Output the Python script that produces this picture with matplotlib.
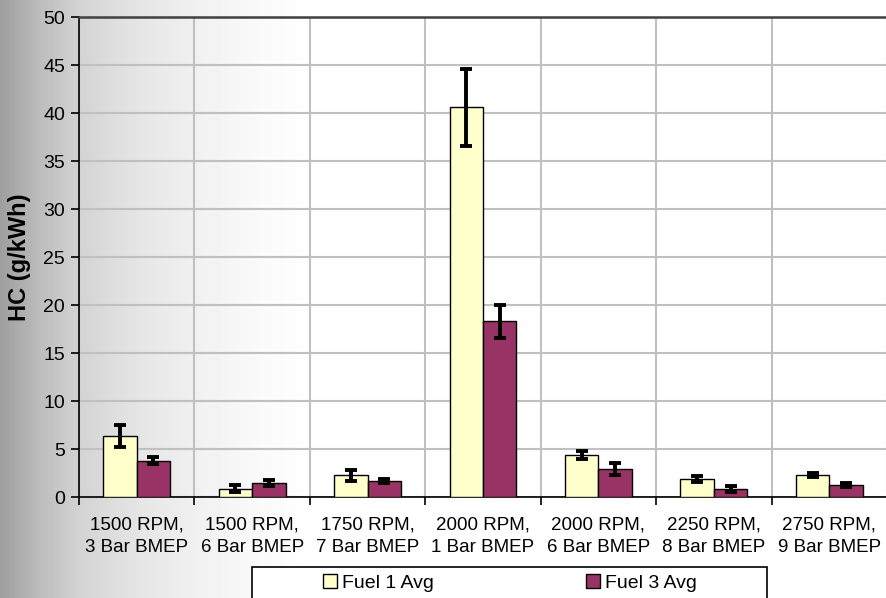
import numpy as np
import matplotlib
matplotlib.use("Agg")
import matplotlib.pyplot as plt
from matplotlib.patches import Rectangle

plt.rcParams['font.family'] = ['Liberation Sans', 'DejaVu Sans']

# data
categories = ["1500 RPM,\n3 Bar BMEP", "1500 RPM,\n6 Bar BMEP", "1750 RPM,\n7 Bar BMEP",
              "2000 RPM,\n1 Bar BMEP", "2000 RPM,\n6 Bar BMEP", "2250 RPM,\n8 Bar BMEP",
              "2750 RPM,\n9 Bar BMEP"]
fuel1_avg = [6.35, 0.84, 2.27, 40.6, 4.37, 1.89, 2.27]
fuel1_err = [1.15, 0.37, 0.58, 4.0, 0.45, 0.3, 0.2]
fuel3_avg = [3.78, 1.47, 1.71, 18.3, 2.94, 0.84, 1.26]
fuel3_err = [0.36, 0.28, 0.2, 1.7, 0.65, 0.27, 0.18]
series_names = ["Fuel 1 Avg", "Fuel 3 Avg"]

fig = plt.figure(figsize=(8.87, 5.98), dpi=100)

# grey-to-white gradient background across the whole figure
bg = fig.add_axes([0, 0, 1, 1], zorder=-10)
xs = np.linspace(0, 887, 887)
shade = np.interp(xs, [0, 40, 80, 140, 200, 260, 320], [0.62, 0.74, 0.83, 0.9, 0.945, 0.98, 1.0])
grad = np.tile(shade, (2, 1))
bg.imshow(grad, aspect='auto', cmap='gray', vmin=0, vmax=1, extent=[0, 1, 0, 1])
bg.set_axis_off()

ax = fig.add_axes([79 / 887, 1 - 497 / 598, 1 - 79 / 887, 480 / 598])
ax.set_facecolor('none')

x = np.arange(len(categories))
w = 0.29
ekw = dict(elinewidth=2.8, capsize=4, capthick=2.8, ecolor='black')
ax.bar(x - w / 2, fuel1_avg, w, yerr=fuel1_err, color='#FFFFCC', edgecolor='black',
       linewidth=1, label=series_names[0], error_kw=ekw, zorder=3)
ax.bar(x + w / 2, fuel3_avg, w, yerr=fuel3_err, color='#993366', edgecolor='black',
       linewidth=1, label=series_names[1], error_kw=ekw, zorder=3)

ax.set_xlim(-0.5, len(categories) - 0.5)
ax.set_ylim(0, 50)
ax.set_yticks(np.arange(0, 51, 5))
ax.set_xticks(x)
ax.set_xticklabels(categories, fontsize=13.5, linespacing=1.4)
ax.set_xticks(np.arange(-0.5, len(categories), 1), minor=True)
ax.tick_params(axis='x', which='major', length=0, pad=14)
ax.tick_params(axis='x', which='minor', length=6, width=1.2, direction='out')
ax.tick_params(axis='y', labelsize=14, length=6, width=1.2, direction='out', pad=4)

ax.grid(axis='y', which='major', color='#c0c0c0', linewidth=1.5, zorder=0)
ax.grid(axis='x', which='minor', color='#c0c0c0', linewidth=1.5, zorder=0)
ax.set_axisbelow(True)

ax.spines['right'].set_visible(False)
ax.spines['top'].set_color('#404040')
ax.spines['top'].set_linewidth(1.8)
ax.spines['left'].set_linewidth(1.2)
ax.spines['bottom'].set_linewidth(1.2)

ax.set_ylabel("HC (g/kWh)", fontsize=17, fontweight='bold')
ax.yaxis.set_label_coords((31 - 79) / 808, 0.5)

# legend frame and entries
fig.patches.append(Rectangle((252 / 887, -0.05), (767 - 252) / 887, 0.05 + 31 / 598,
                             transform=fig.transFigure, facecolor='white',
                             edgecolor='black', linewidth=1.2, zorder=5))
leg = fig.legend(loc='center', bbox_to_anchor=(510 / 887, 1 - 583 / 598), ncol=2,
                 frameon=False, fontsize=14, handlelength=0.75, handleheight=0.75,
                 handletextpad=0.25, columnspacing=7.8)
leg.set_zorder(6)

fig.savefig("out.png", dpi=100)
